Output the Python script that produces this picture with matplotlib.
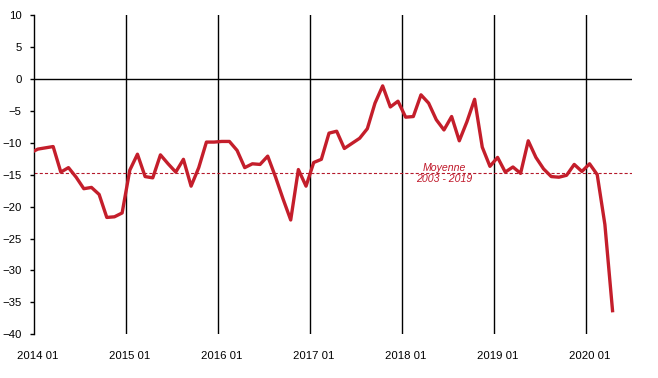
import numpy as np
import matplotlib
matplotlib.use("Agg")
import matplotlib.pyplot as plt

plt.rcParams['font.family'] = ['Liberation Sans', 'DejaVu Sans']

# monthly values, first one is 2013 12 (clipped at the axis), last one 2020 04
start_index = -1
values = [
    -11.6,
    -11.0, -10.8, -10.6, -14.6, -13.9, -15.4, -17.2, -17.0, -18.1, -21.7, -21.6, -21.0,  # 2014
    -14.3, -11.8, -15.3, -15.5, -11.9, -13.3, -14.6, -12.6, -16.8, -13.9, -9.9, -9.9,    # 2015
    -9.8, -9.8, -11.2, -13.9, -13.3, -13.4, -12.1, -15.3, -18.8, -22.1, -14.2, -16.8,    # 2016
    -13.1, -12.6, -8.5, -8.2, -10.9, -10.1, -9.3, -7.8, -3.8, -1.1, -4.4, -3.5,          # 2017
    -6.0, -5.9, -2.5, -3.8, -6.4, -8.0, -5.9, -9.7, -6.7, -3.2, -10.7, -13.7,            # 2018
    -12.3, -14.6, -13.8, -14.8, -9.7, -12.3, -14.1, -15.3, -15.4, -15.1, -13.4, -14.5,   # 2019
    -13.3, -15.0, -22.8, -36.3,                                                         # 2020
]
moyenne = -14.8
moyenne_label = "Moyenne\n2003 - 2019"
years = [2014, 2015, 2016, 2017, 2018, 2019, 2020]
tick_labels = ["%d 01" % y for y in years]

x = np.arange(start_index, start_index + len(values)) + 0.5   # months plotted mid-category

fig = plt.figure(figsize=(6.58, 3.78), dpi=100)
ax = fig.add_axes([34 / 658, 1 - 334.3 / 378, (631.7 - 34) / 658, (334.3 - 15) / 378])

n_months = 78
ax.set_xlim(0, n_months)
ax.set_ylim(-40, 10)

# year separators and zero line
for k in range(1, len(years)):
    ax.axvline(12 * k, color='black', lw=1.0, zorder=1)
ax.axhline(0, color='black', lw=1.0, zorder=1)

ax.axhline(moyenne, color='#B5192B', lw=0.8, linestyle=(0, (2.8, 1.9)), zorder=2)
ax.text(53.5, moyenne, moyenne_label, ha='center', va='center', style='italic',
        fontsize=7.6, color='#C0182A', linespacing=1.15, zorder=3)

ax.plot(x, values, color='#C41E2B', lw=2.4, solid_joinstyle='round', zorder=4, clip_on=True)

for s in ['top', 'right', 'bottom']:
    ax.spines[s].set_visible(False)
ax.spines['left'].set_linewidth(1.0)

ax.set_yticks(np.arange(-40, 11, 5))
ax.tick_params(axis='y', direction='out', length=3, width=1, pad=6, labelsize=8.2)
ax.set_xticks([12 * k + 0.5 for k in range(len(years))])
ax.set_xticklabels(tick_labels)
ax.tick_params(axis='x', length=0, pad=12, labelsize=8.2)

fig.savefig("out.png", dpi=100)
